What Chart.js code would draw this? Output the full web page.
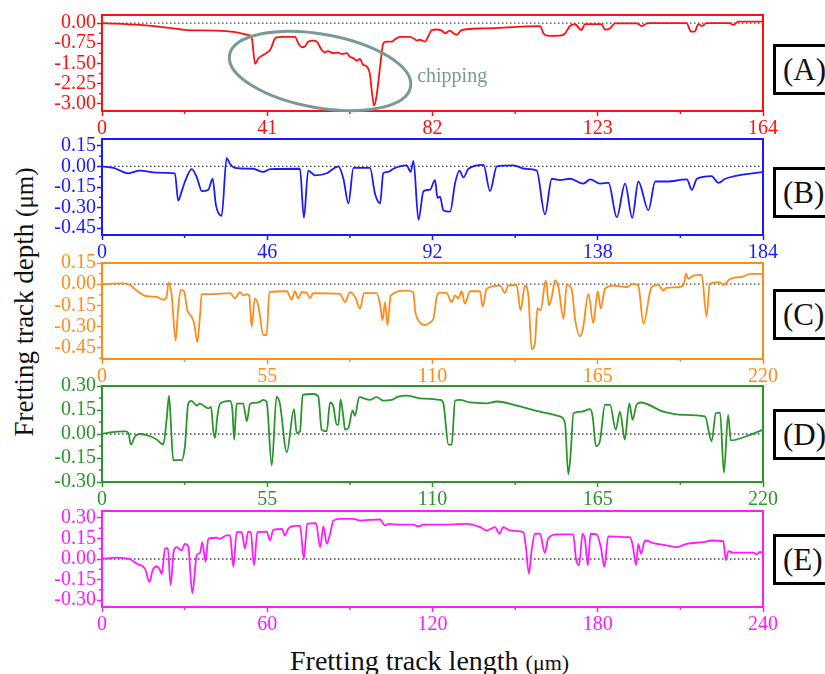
<!DOCTYPE html>
<html>
<head>
<meta charset="utf-8">
<script src="https://cdn.jsdelivr.net/npm/chart.js@4.4.1/dist/chart.umd.min.js"></script>
<style>
  html, body { margin: 0; padding: 0; background: #fff; }
  body {
    width: 825px; height: 674px; position: relative; overflow: hidden;
    font-family: "Liberation Serif", "DejaVu Serif", "Times New Roman", serif;
  }
  canvas { position: absolute; left: 0; }
  .tag {
    position: absolute; left: 773px; width: 70px; height: 51px;
    border: 3px solid #000; box-sizing: border-box; background: #fff;
    font-size: 31px; line-height: 45px; padding-left: 7px; color: #111;
  }
  #ytitle {
    position: absolute; width: 320px; height: 28px; line-height: 28px;
    left: -136px; top: 288px; text-align: center; font-size: 27px;
    transform: rotate(-90deg); white-space: nowrap; color: #111;
  }
  #xtitle {
    position: absolute; left: 290px; top: 647px; height: 28px; line-height: 28px;
    font-size: 28px; white-space: nowrap; color: #111;
  }
  .unit { font-size: 22px; }
  #ytitle .unit { font-size: 25px; }
</style>
</head>
<body>
<div id="ytitle">Fretting track depth <span class="unit">(μm)</span></div>
<div id="xtitle">Fretting track length <span class="unit">(μm)</span></div>
<div class="tag" style="top:44px">(A)</div>
<div class="tag" style="top:167px">(B)</div>
<div class="tag" style="top:289px">(C)</div>
<div class="tag" style="top:409px">(D)</div>
<div class="tag" style="top:534px">(E)</div>

<script>
// ---- data (track length in um, depth in um) ----
const aX = [0, 9.4, 19.4, 21, 28.5, 32.6, 36.7, 37.1, 38, 38.8, 40, 40.9, 41.7, 42.1, 42.7, 43.3, 45, 47.9, 48.7, 49.6,
  50.3, 51.2, 52.4, 53.3, 54.5, 55.3, 56, 57.4, 58.5, 59.5, 60.7, 61.5, 62.4, 63.2, 64, 64.8, 65.6, 66.5, 66.9, 67.5,
  68.1, 69, 69.8, 70.6, 71.9, 72.7, 73.9, 76.4, 77.6, 78.1, 78.9, 80.1, 81, 81.8, 83, 84.3, 85.1, 86.3, 87.1, 88,
  89.2, 94.5, 108.7, 109.5, 110.7, 113.6, 114.9, 116.1, 117.3, 119, 119.8, 123.9, 124.8, 126, 127.3, 132.7, 133.9,
  135.5, 145, 146.2, 147, 148, 148.8, 150, 155.8, 156.6, 157.9, 164];
const aY = [0, -0.07, -0.23, -0.26, -0.28, -0.33, -0.46, -0.5, -1.52, -1.31, -1.19, -1.1, -1.0, -0.88, -0.63, -0.53, -0.51, -0.51, -0.75, -0.9,
  -0.87, -0.69, -0.65, -0.69, -1.0, -1.09, -1.04, -1.12, -1.1, -1.15, -1.12, -1.25, -1.31, -1.4, -1.33, -1.56, -1.6, -1.93, -2.48, -3.07,
  -2.73, -1.62, -0.75, -0.69, -0.69, -0.6, -0.51, -0.51, -0.6, -0.65, -0.62, -0.69, -0.48, -0.26, -0.24, -0.28, -0.38, -0.28, -0.37, -0.44,
  -0.26, -0.2, -0.11, -0.38, -0.48, -0.47, -0.38, -0.11, -0.04, -0.26, -0.04, -0.04, -0.24, -0.2, -0.01, -0.01, -0.11,
  0, 0, -0.32, -0.32, -0.04, -0.11, 0, 0, -0.07, 0.05, 0.05];

const bX = [0, 3.2, 7.3, 10.6, 15.2, 20.3, 21.2, 22.2, 23.1, 25, 26.4, 27.8, 29.6, 30.8, 31.7, 33.3, 34.7, 35.6, 37, 42.1,
  44.9, 46.8, 55.1, 56.2, 57.4, 59.3, 62.6, 64.4, 65.8, 67.2, 68.6, 70, 74.6, 76, 77.4, 78.3, 79.7, 81.1, 84.8, 85.9,
  86.7, 88.1, 89.5, 91.3, 92.7, 93.4, 94.1, 95, 96.9, 98.3, 99.5, 100.6, 102, 106.2, 108, 109.9, 114.5, 117.8, 121, 123.3,
  125.2, 127.5, 130.3, 134, 135.9, 138.7, 141, 143.3, 145.6, 147.6, 149.3, 152.1, 154, 157.2, 162.8, 164.2, 165.6, 169.7,
  171.6, 173.5, 184];
const bY = [0, -0.01, -0.05, -0.03, -0.045, -0.05, -0.25, -0.18, -0.11, -0.02, -0.08, -0.18, -0.17, -0.09, -0.28, -0.36, 0.06, 0.02, -0.01, -0.017,
  -0.04, -0.02, -0.017, -0.375, -0.03, -0.065, -0.05, -0.017, 0, -0.09, -0.27, -0.01, -0.01, -0.2, -0.27, -0.05, -0.04, -0.017, 0.007, -0.04,
  0.04, -0.39, -0.18, -0.17, -0.1, -0.23, -0.22, -0.32, -0.33, -0.12, -0.03, -0.08, -0.017, 0.012, -0.18, 0, 0.007, -0.017, -0.03, -0.35,
  -0.09, -0.1, -0.09, -0.125, -0.095, -0.125, -0.12, -0.37, -0.125, -0.375, -0.11, -0.32, -0.11, -0.11, -0.095, -0.17, -0.09, -0.07,
  -0.12, -0.09, -0.04];

const cX = [0, 7.1, 9.3, 11.5, 14.9, 18.2, 20.4, 21.5, 22.1, 23.2, 24.5, 25.4, 26.2, 27.3, 28.4, 29.8, 30.7, 31.7, 32.6, 33.2,
  37, 42.6, 44.3, 45.9, 47, 48.2, 49, 49.8, 50.9, 52, 53.7, 54.8, 55.7, 61.5, 63.1, 64.2, 65.3, 66.5, 68.1, 69.2,
  70.3, 79.2, 80.9, 82.5, 84.2, 85.9, 87.2, 91.4, 92.5, 93.4, 94.2, 95, 96.1, 101.4, 103.6, 104.2, 105.8, 107.5, 109.2, 110.3,
  111.4, 112.5, 114.7, 116.4, 117.5, 118.6, 119.7, 120.8, 122.5, 125.8, 126.7, 128, 132.5, 134.1, 135.2, 138, 139.3, 140.8, 141.9, 143,
  144.1, 144.9, 146, 147.7, 148.8, 149.7, 150.8, 151.9, 153.6, 154.7, 156.3, 157.5, 159.1, 160, 161.9, 163.5, 165, 166, 167.4, 170.2,
  174.6, 176.8, 178.5, 180.2, 182.9, 185.2, 186.8, 187.9, 192.4, 193.7, 194.4, 195.1, 196.8, 199.6, 201.2, 202.3, 205.6, 206.8, 209, 213.4,
  215.7, 220];
const cY = [0, 0.005, -0.005, -0.045, -0.085, -0.09, -0.11, -0.09, 0.01, -0.08, -0.4, -0.16, -0.04, -0.05, -0.185, -0.23, -0.28, -0.41, -0.23, -0.07,
  -0.07, -0.063, -0.1, -0.056, -0.08, -0.07, -0.08, -0.3, -0.1, -0.15, -0.36, -0.36, -0.056, -0.05, -0.11, -0.05, -0.1, -0.056, -0.06, -0.1,
  -0.063, -0.068, -0.127, -0.056, -0.09, -0.173, -0.063, -0.063, -0.138, -0.255, -0.127, -0.29, -0.08, -0.045, -0.056, -0.185, -0.27, -0.29, -0.27, -0.245,
  -0.09, -0.06, -0.063, -0.127, -0.08, -0.1, -0.05, -0.138, -0.05, -0.05, -0.16, -0.033, -0.01, -0.063, -0.01, -0.005, -0.185, -0.01, -0.08, -0.46,
  -0.42, -0.17, -0.185, 0.026, -0.15, -0.09, 0.026, -0.02, -0.245, -0.005, -0.033, -0.255, -0.37, -0.325, -0.068, -0.275, -0.05, -0.173, -0.033, -0.01,
  -0.02, 0.002, -0.01, -0.28, -0.02, -0.005, -0.045, -0.026, -0.02, 0.002, 0.077, 0.037, 0.06, 0.066, -0.23, 0.002, 0.014, -0.005, 0.037, 0.054,
  0.073, 0.073];

const dX = [0, 2.7, 7.7, 8.8, 9.6, 11, 12.6, 16, 18.2, 20.4, 21.5, 22.3, 22.8, 23.7, 26.5, 27.6, 28.7, 29.8, 31.5, 32.6,
  34.3, 35.4, 36.3, 37, 37.6, 38.4, 39.3, 42.6, 43.4, 44, 44.8, 47, 48.2, 49.3, 52, 53.7, 54.8, 56.5, 58.1, 59.2,
  61.5, 63.9, 64.8, 65.9, 66.8, 70.3, 72, 73.1, 74.8, 75.9, 77, 78.1, 78.7, 79.4, 80.3, 80.9, 82, 83.4, 84.2, 85.6,
  89.2, 91.4, 93.6, 96.4, 98.6, 101.4, 105.8, 112.5, 113.6, 115.3, 116.4, 117.5, 119.1, 122.5, 128, 131.4, 139.1, 145.8, 152.4, 154.1,
  155.2, 156, 156.9, 159.7, 162.4, 163.3, 164.4, 165.7, 167.4, 169.1, 171, 172.4, 174, 175.5, 176.6, 177.9, 179.3, 186.8, 193.4, 200.7,
  202.9, 204.3, 205.7, 207, 208.4, 209.3, 214.5, 220];
const dY = [0, 0.01, 0.017, 0.006, -0.066, -0.014, 0, -0.014, -0.035, -0.066, 0.09, 0.24, 0.11, -0.163, -0.163, -0.077, 0.19, 0.207, 0.178, 0.19,
  0.17, 0.16, 0.17, 0.027, -0.025, 0.11, 0.19, 0.207, 0.15, -0.035, 0.19, 0.19, 0.08, 0.19, 0.197, 0.213, 0.2, -0.197, 0.234, 0.19,
  -0.114, 0.155, 0.006, 0.017, 0.244, 0.25, 0.234, 0.027, 0.017, 0.197, 0.172, 0.058, 0.058, 0.217, 0.11, 0.027, 0.037, 0.147, 0.114, 0.23,
  0.213, 0.23, 0.209, 0.213, 0.234, 0.24, 0.223, 0.213, 0.192, -0.066, -0.066, 0.209, 0.213, 0.197, 0.192, 0.203, 0.172, 0.14, 0.11, 0.068,
  -0.252, -0.118, 0.13, 0.14, 0.155, 0.11, -0.077, -0.046, 0.182, 0.182, 0.027, 0.14, -0.035, 0.192, 0.089, 0.182, 0.197, 0.14, 0.12, 0.11,
  -0.046, 0.13, 0.134, -0.242, 0.12, -0.04, -0.014, 0.027];

const eX = [0, 5.3, 10.2, 12.6, 15.6, 17.2, 18.4, 19.9, 20.8, 21.7, 22.9, 23.9, 24.9, 26.1, 27.1, 28.9, 30.1, 31.3, 32.8, 34.4,
  35.6, 36.4, 37.6, 38.6, 41.6, 42.8, 45.3, 46.5, 47.7, 48.9, 50.7, 51.9, 53.1, 54, 55.2, 56.4, 59.8, 61, 62.2, 65.3,
  66.4, 67.6, 69.5, 71.9, 73.3, 74.5, 77.7, 79.2, 80.4, 81.6, 82.8, 84, 86.4, 91.2, 93.7, 97.3, 100.9, 102.8, 104, 108.2,
  113, 114.9, 116.7, 122.7, 132.4, 137.3, 139.7, 142.7, 144.3, 145.7, 148.1, 153, 153.9, 155, 156, 157.2, 159, 160.8, 162, 165.1,
  171.1, 172.1, 173.2, 174.5, 175.4, 176.4, 177.4, 179.6, 181.1, 182.4, 183.8, 189.3, 191.7, 192.7, 193.9, 194.7, 195.7, 197.2, 200.2, 205,
  208.7, 212.3, 218.4, 221.4, 225.6, 226.5, 227.4, 229.2, 236.5, 237.7, 238.9, 240];
const eY = [0, 0.01, -0.002, -0.034, -0.07, -0.167, -0.082, -0.053, -0.07, -0.11, 0.075, 0.08, -0.19, 0.063, 0.087, 0.063, 0.111, 0.092, -0.25, 0.027,
  0.044, 0.123, -0.02, 0.148, 0.155, 0.148, 0.172, 0.172, -0.058, 0.196, 0.196, 0.075, 0.2, 0.196, -0.046, 0.196, 0.2, 0.135, 0.213, 0.22,
  0.172, 0.22, 0.24, 0.244, 0.002, 0.256, 0.261, 0.087, 0.237, 0.111, 0.184, 0.28, 0.293, 0.293, 0.28, 0.285, 0.288, 0.244, 0.256, 0.25,
  0.25, 0.237, 0.25, 0.25, 0.256, 0.232, 0.208, 0.232, 0.184, 0.232, 0.208, 0.196, 0.087, -0.106, 0.063, 0.184, 0.184, 0.044, 0.148, 0.179,
  0.179, 0.002, -0.046, 0.184, 0.135, -0.046, 0.184, 0.179, 0.087, -0.058, 0.165, 0.16, 0.16, 0.1, -0.046, 0.111, 0.039, 0.135, 0.116, 0.1,
  0.087, 0.111, 0.123, 0.135, 0.13, -0.01, 0.058, 0.046, 0.046, 0.034, 0.051, 0.044];

// tick labels
const aXTicks = [0, 41, 82, 123, 164];
const bXTicks = [0, 46, 92, 138, 184];
const cXTicks = [0, 55, 110, 165, 220];
const dXTicks = [0, 55, 110, 165, 220];
const eXTicks = [0, 60, 120, 180, 240];
const aYTicks = [-3.0, -2.25, -1.5, -0.75, 0];
const bYTicks = [-0.45, -0.3, -0.15, 0, 0.15];
const cYTicks = [-0.45, -0.3, -0.15, 0, 0.15];
const dYTicks = [-0.3, -0.15, 0, 0.15, 0.3];
const eYTicks = [-0.3, -0.15, 0, 0.15, 0.3];

const FONT = '"Liberation Serif", "DejaVu Serif", "Times New Roman", serif';
const PAD_TOP = 14;
const X_AXIS_H = 32;

const panels = [
  { color: '#ff1010', xs: aX, ys: aY, xTicks: aXTicks, yTicks: aYTicks, yMin: -3.27, yMax: 0.3, top: 15, bottom: 111, chipping: true },
  { color: '#1a1aff', xs: bX, ys: bY, xTicks: bXTicks, yTicks: bYTicks, yMin: -0.5, yMax: 0.2, top: 139, bottom: 235 },
  { color: '#ff8c1a', xs: cX, ys: cY, xTicks: cXTicks, yTicks: cYTicks, yMin: -0.53, yMax: 0.15, top: 263, bottom: 359 },
  { color: '#2a952a', xs: dX, ys: dY, xTicks: dXTicks, yTicks: dYTicks, yMin: -0.3, yMax: 0.3, top: 386, bottom: 482 },
  { color: '#ff1aff', xs: eX, ys: eY, xTicks: eXTicks, yTicks: eYTicks, yMin: -0.35, yMax: 0.35, top: 511, bottom: 607 },
];

// box round the plot, minor ticks and the chipping note
const framePlugin = {
  id: 'frame',
  afterDatasetsDraw(chart, args, opts) {
    const { ctx, chartArea: a, scales } = chart;
    ctx.save();
    ctx.strokeStyle = opts.color;
    ctx.lineWidth = 2;
    ctx.strokeRect(a.left, a.top, a.right - a.left, a.bottom - a.top);

    // minor ticks at the half steps
    ctx.lineWidth = 1.5;
    ctx.beginPath();
    const xt = opts.xTicks;
    for (let i = 0; i < xt.length - 1; i++) {
      const px = scales.x.getPixelForValue((xt[i] + xt[i + 1]) / 2);
      ctx.moveTo(px, a.bottom);
      ctx.lineTo(px, a.bottom + 3);
    }
    const yt = opts.yTicks;
    const step = yt[1] - yt[0];
    for (let v = yt[0] - step / 2; v <= yt[yt.length - 1] + step; v += step) {
      if (v < scales.y.min || v > scales.y.max) continue;
      const py = scales.y.getPixelForValue(v);
      ctx.moveTo(a.left - 3, py);
      ctx.lineTo(a.left, py);
    }
    ctx.stroke();

    if (opts.chipping) {
      const cx = scales.x.getPixelForValue(54.1);
      const cy = scales.y.getPixelForValue(-1.78);
      const rx = scales.x.getPixelForValue(54.1 + 22.8) - cx;
      const ry = cy - scales.y.getPixelForValue(-1.78 + 1.37);
      ctx.strokeStyle = '#7b9898';
      ctx.lineWidth = 3;
      ctx.beginPath();
      ctx.ellipse(cx, cy, rx, ry, 10 * Math.PI / 180, 0, Math.PI * 2);
      ctx.stroke();
      ctx.fillStyle = '#7b9898';
      ctx.font = '20px ' + FONT;
      ctx.textBaseline = 'alphabetic';
      ctx.fillText('chipping', scales.x.getPixelForValue(78.2), scales.y.getPixelForValue(-2.19));
    }
    ctx.restore();
  },
};

function makePanel(p) {
  const canvas = document.createElement('canvas');
  const h = (p.bottom - p.top) + PAD_TOP + X_AXIS_H;
  canvas.width = 785;
  canvas.height = h;
  canvas.style.top = (p.top - PAD_TOP) + 'px';
  document.body.appendChild(canvas);

  const xMax = p.xTicks[p.xTicks.length - 1];
  const tickFont = { family: FONT, size: 20 };

  new Chart(canvas, {
    type: 'line',
    data: {
      datasets: [
        {
          data: p.xs.map((x, i) => ({ x, y: p.ys[i] })),
          borderColor: p.color,
          borderWidth: 1.8,
          pointRadius: 0,
          cubicInterpolationMode: 'monotone',
          fill: false,
        },
        {
          // dotted zero line
          data: [{ x: 0, y: 0 }, { x: xMax, y: 0 }],
          borderColor: '#444',
          borderWidth: 1.3,
          borderDash: [1.5, 2.5],
          pointRadius: 0,
          fill: false,
        },
      ],
    },
    options: {
      responsive: false,
      animation: false,
      devicePixelRatio: 1,
      events: [],
      layout: { padding: { top: PAD_TOP, right: 22, left: 0, bottom: 0 } },
      plugins: {
        legend: { display: false },
        tooltip: { enabled: false },
        frame: { color: p.color, xTicks: p.xTicks, yTicks: p.yTicks, chipping: !!p.chipping },
      },
      scales: {
        x: {
          type: 'linear',
          min: 0,
          max: xMax,
          afterBuildTicks: (s) => { s.ticks = p.xTicks.map((v) => ({ value: v })); },
          afterFit: (s) => { s.height = X_AXIS_H; },
          grid: { drawOnChartArea: false, drawTicks: true, tickLength: 5, tickColor: p.color, tickWidth: 1.5 },
          border: { display: false },
          ticks: { color: p.color, font: tickFont, padding: 1, maxRotation: 0, autoSkip: false, callback: (v) => String(v) },
        },
        y: {
          type: 'linear',
          min: p.yMin,
          max: p.yMax,
          afterBuildTicks: (s) => { s.ticks = p.yTicks.map((v) => ({ value: v })); },
          afterFit: (s) => { s.width = 102; },
          grid: { drawOnChartArea: false, drawTicks: true, tickLength: 5, tickColor: p.color, tickWidth: 1.5 },
          border: { display: false },
          ticks: { color: p.color, font: tickFont, padding: 1, autoSkip: false, callback: (v) => Number(v).toFixed(2) },
        },
      },
    },
    plugins: [framePlugin],
  });
}

panels.forEach(makePanel);
</script>
</body>
</html>
